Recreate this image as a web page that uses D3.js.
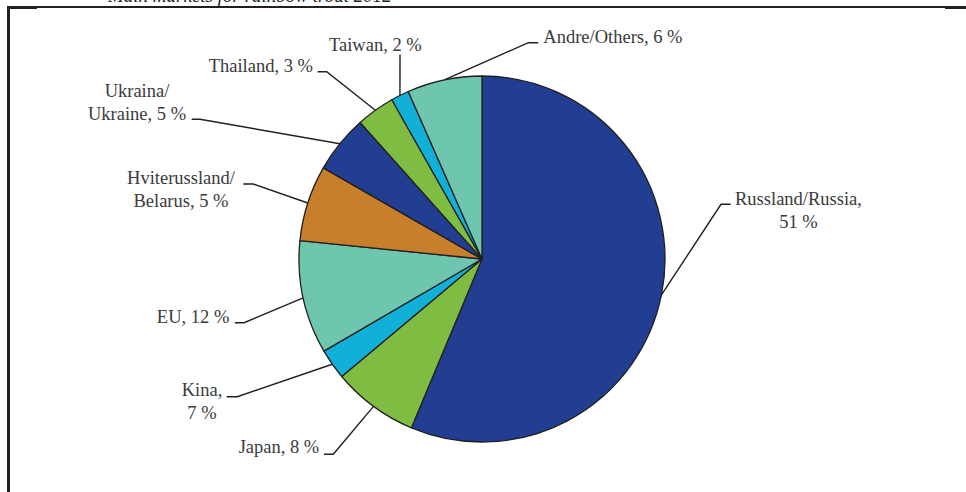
<!DOCTYPE html>
<html>
<head>
<meta charset="utf-8">
<script src="https://cdn.jsdelivr.net/npm/d3@7"></script>
<style>
  html, body { margin: 0; padding: 0; background: #fff; }
  svg { display: block; }
  .lbl { font-family: "Liberation Serif", "Times New Roman", serif; font-size: 18.5px; fill: #3a3a3a; }
</style>
</head>
<body>
<svg width="966" height="492"></svg>
<script>
// slice order clockwise from 12 o'clock
const markets = ["Russland/Russia", "Japan", "Kina", "EU", "Hviterussland/Belarus",
                 "Ukraina/Ukraine", "Thailand", "Taiwan", "Andre/Others"];
// slice sizes as drawn in the picture (share of circle, %)
const sliceShare = [56.3, 7.6, 2.7, 10.0, 6.7, 5.1, 3.4, 1.6, 6.6];
// label texts as printed
const labelLines = [
  ["Russland/Russia,", "51 %"],
  ["Japan, 8 %"],
  ["Kina,", "7 %"],
  ["EU, 12 %"],
  ["Hviterussland/", "Belarus, 5 %"],
  ["Ukraina/", "Ukraine, 5 %"],
  ["Thailand, 3 %"],
  ["Taiwan, 2 %"],
  ["Andre/Others, 6 %"]
];
const sliceColors = ["#213e92", "#7fbd42", "#10b0d8", "#6ec6ae", "#c77f2b",
                     "#213e92", "#7fbd42", "#10b0d8", "#6ec6ae"];
const title = "Main markets for rainbow trout 2012";

// where each label sits: elbow of leader, tick end, text anchor
const labelPlace = [
  { elbow: [721, 204.3], tick: 730.7, tx: 798.5, ty: 205, anchor: "middle" },
  { elbow: [333.3, 454.3], tick: 324, tx: 319.3, ty: 453.3, anchor: "end" },
  { elbow: [237.3, 396.7], tick: 226.7, tx: 202, ty: 396, anchor: "middle" },
  { elbow: [244, 322.7], tick: 235, tx: 229.3, ty: 322.7, anchor: "end" },
  { elbow: [253.3, 184], tick: 243.3, tx: 181, ty: 184, anchor: "middle" },
  { elbow: [200, 119.3], tick: 191.7, tx: 137, ty: 97, anchor: "middle" },
  { elbow: [326.7, 71.7], tick: 317.7, tx: 313, ty: 71.7, anchor: "end" },
  { elbow: [400, 54.5], tick: null, tx: 329, ty: 50.7, anchor: "start" },
  { elbow: [528.3, 42.7], tick: 538.3, tx: 543.3, ty: 43.3, anchor: "start" }
];

const svg = d3.select("svg");
const cx = 482, cy = 259, r = 183;

// clipped title above the frame
svg.append("text")
  .attr("x", 108).attr("y", 2)
  .attr("font-family", "Liberation Serif, serif")
  .attr("font-style", "italic")
  .attr("font-size", 19)
  .attr("fill", "#222")
  .text(title);

// frame
const ink = "#231f20";
svg.append("line").attr("x1", 7).attr("x2", 966).attr("y1", 7).attr("y2", 7)
  .attr("stroke", ink).attr("stroke-width", 2);
svg.append("line").attr("x1", 7).attr("x2", 37).attr("y1", 7.5).attr("y2", 7.5)
  .attr("stroke", ink).attr("stroke-width", 3);
svg.append("line").attr("x1", 945).attr("x2", 966).attr("y1", 7.5).attr("y2", 7.5)
  .attr("stroke", ink).attr("stroke-width", 3);
svg.append("line").attr("x1", 8.5).attr("x2", 8.5).attr("y1", 6).attr("y2", 492)
  .attr("stroke", ink).attr("stroke-width", 3);

const pie = d3.pie().sort(null).value(d => d);
const arcs = pie(sliceShare);
const arc = d3.arc().innerRadius(0).outerRadius(r);
const edge = d3.arc().innerRadius(r).outerRadius(r);

const g = svg.append("g").attr("transform", `translate(${cx},${cy})`);
g.selectAll("path")
  .data(arcs)
  .join("path")
  .attr("d", arc)
  .attr("fill", (d, i) => sliceColors[i])
  .attr("stroke", ink)
  .attr("stroke-width", 1.3)
  .attr("stroke-linejoin", "round");

// leaders
arcs.forEach((d, i) => {
  const p = edge.centroid(d);
  const lp = labelPlace[i];
  const pts = [[p[0] + cx, p[1] + cy], lp.elbow];
  if (lp.tick !== null) pts.push([lp.tick, lp.elbow[1]]);
  svg.append("path")
    .attr("d", d3.line()(pts))
    .attr("fill", "none")
    .attr("stroke", ink)
    .attr("stroke-width", 1.4);

  const t = svg.append("text")
    .attr("class", "lbl")
    .attr("text-anchor", lp.anchor)
    .attr("x", lp.tx).attr("y", lp.ty);
  labelLines[i].forEach((line, k) => {
    t.append("tspan").attr("x", lp.tx).attr("dy", k === 0 ? 0 : 23).text(line);
  });
});
</script>
</body>
</html>
